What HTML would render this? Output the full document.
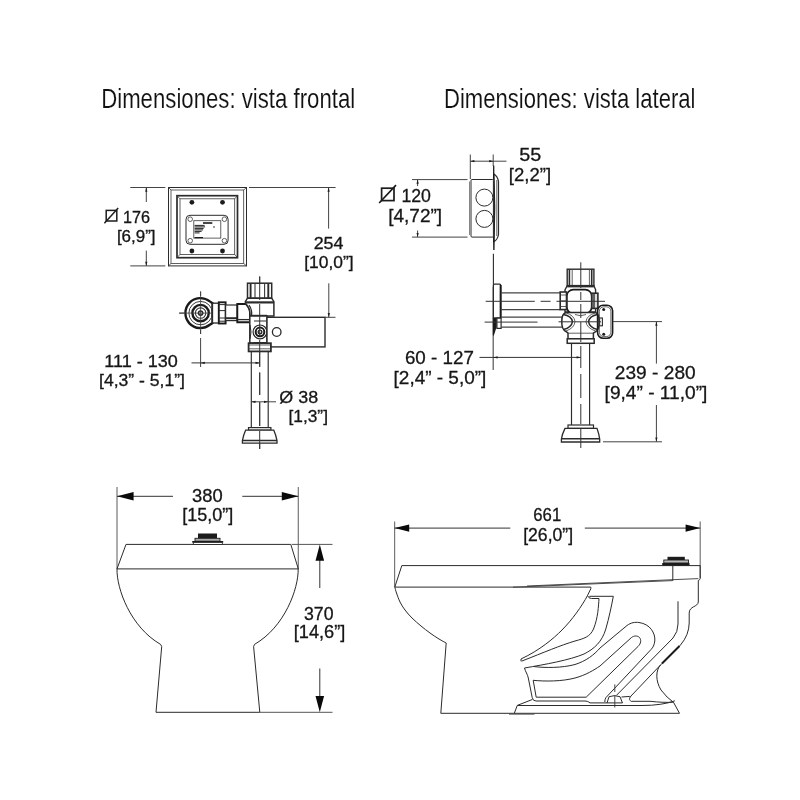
<!DOCTYPE html>
<html><head><meta charset="utf-8">
<style>
html,body{margin:0;padding:0;background:#fff;}
body{width:800px;height:800px;overflow:hidden;font-family:"Liberation Sans",sans-serif;}
svg{display:block;will-change:transform;}
.l{fill:none;stroke:#2b2b2b;stroke-width:1;}
.t{fill:none;stroke:#3a3a3a;stroke-width:0.8;}
.d{fill:none;stroke:#444;stroke-width:1;}
.k{fill:#1c1c1c;stroke:none;}
.w{fill:#fff;stroke:#2b2b2b;stroke-width:1;}
text{font-family:"Liberation Sans",sans-serif;fill:#1a1a1a;}
.q{fill:#161616;stroke:#161616;stroke-width:0.3;}
.h{font-size:28px;fill:#111;stroke:#fff;stroke-width:0.12;}
</style></head>
<body>
<svg width="800" height="800" viewBox="0 0 800 800">
<rect width="800" height="800" fill="#fff"/>
<!-- TITLES -->
<g id="titles">
<text class="h" x="101.2" y="108.4" textLength="254" lengthAdjust="spacingAndGlyphs">Dimensiones: vista frontal</text>
<text class="h" x="444" y="108.4" textLength="251.5" lengthAdjust="spacingAndGlyphs">Dimensiones: vista lateral</text>
</g>
<!-- FRONT-PLATE -->
<g id="fplate">
<rect class="l" x="168.5" y="187.5" width="78" height="78.4"/>
<rect class="t" x="171" y="190" width="72.7" height="73.5"/>
<path class="t" d="M168.5 187.5L171 190M246.5 187.5L243.7 190M168.5 265.9L171 263.5M246.5 265.9L243.7 263.5"/>
<rect class="l" x="177" y="195.7" width="60.5" height="62" style="stroke-width:1.7"/>
<rect class="t" x="180" y="198.8" width="54.7" height="55.6"/>
<path class="t" d="M177 195.7L180 198.8M237.5 195.7L234.7 198.8M177 257.7L180 254.4M237.5 257.7L234.7 254.4"/>
<circle class="k" cx="191.9" cy="202.3" r="2.4"/><circle class="k" cx="222.5" cy="202.3" r="2.4"/>
<circle class="k" cx="191.9" cy="251" r="2.4"/><circle class="k" cx="222.5" cy="251" r="2.4"/>
<rect class="l" x="186" y="215.3" width="42.1" height="29" rx="4"/>
<circle class="t" cx="190.2" cy="219.2" r="2.3"/><circle class="t" cx="224.4" cy="219.2" r="2.3"/>
<circle class="t" cx="190.2" cy="240.7" r="2.3"/><circle class="t" cx="224.4" cy="240.7" r="2.3"/>
<rect class="t" x="193.8" y="220.7" width="27" height="17.4"/>
<rect class="k" x="203" y="222.2" width="9.3" height="1.6"/>
<path d="M194.6 225.4h10M194.6 226.9h10.5M194.6 228.4h9M194.6 229.9h8.5M194.6 231.4h7M194.6 232.9h5" stroke="#222" stroke-width="1" fill="none"/>
<rect class="k" x="194.6" y="237" width="8.4" height="1.2"/>
<circle class="k" cx="214" cy="227" r="0.8"/>
<!-- dims -->
<path class="d" d="M130.3 187.5H165.3M130.3 265.9H165.3M146.3 187.5V202M146.3 250.6V265.9"/>
<path class="k" d="M146.3 187.5l-1.1 4.2h2.2zM146.3 265.9l-1.1 -4.2h2.2z"/>
<path class="d" d="M249 187.5H335.6M328.6 187.5V228.6"/>
<path class="k" d="M328.6 187.5l-1.1 4.2h2.2z"/>
<rect class="t" x="106.2" y="210.4" width="10.6" height="10.6" style="stroke-width:1.5;stroke:#1c1c1c"/><path class="t" d="M104.4 223.2L118.2 208" style="stroke-width:1.5;stroke:#1c1c1c"/>
</g>
<!-- FRONT-VALVE -->
<g id="fvalve">
<!-- center lines -->
<path class="d" d="M259.7 276.5V300M259.7 304V336M259.7 340V366.9M259.7 372.5V395M259.7 402V426M259.7 431V449" style="stroke:#333"/>
<path class="d" d="M179 313.1H184M200.6 291.5V296M200.6 330V334M200.6 338V367"/>
<!-- stop valve -->
<path class="w" d="M212.5 303.2L209.8 301.4A15 15 0 1 0 209.8 324.8L212.5 323Z" style="stroke-width:2.4;stroke:#1a1a1a"/>
<circle class="t" cx="200.6" cy="313.1" r="11.7" style="stroke-width:1"/>
<circle class="l" cx="200.6" cy="313.1" r="8.2" style="stroke-width:2.4;stroke:#1a1a1a"/>
<circle class="t" cx="200.6" cy="313.1" r="5.2" style="stroke-width:1.1"/>
<circle class="l" cx="200.6" cy="313.1" r="2.1" style="stroke-width:1.6"/>
<path class="t" d="M200.6 291.5V334M179.5 313.1H213"/>
<rect class="w" x="212.5" y="303.2" width="6.3" height="19.8" style="stroke-width:1.3"/>
<rect class="w" x="218.8" y="302.3" width="6.8" height="21.2" style="stroke-width:1.9;stroke:#1a1a1a"/>
<path class="l" d="M218.8 304.6h6.8M218.8 310.6h6.8M218.8 318h6.8M218.8 321.2h6.8"/>
<rect class="w" x="225.6" y="305" width="11.7" height="15.6" style="stroke-width:1.2"/>
<path class="l" d="M225.6 318.2h11.7" style="stroke-width:2"/>
<path class="w" d="M237.3 304H246Q250 308 250 313V322.3H237.3Z" style="stroke-width:1.9;stroke:#1a1a1a"/>
<path class="l" d="M237.3 319.6H250" style="stroke-width:1.3"/>
<!-- main body -->
<rect class="w" x="247.5" y="283.2" width="24.2" height="15" style="stroke-width:1.5"/>
<path class="l" d="M250.6 283.2v15M268.3 283.2v15" style="stroke-width:1.9"/>
<path class="t" d="M255 284v14M264.6 284v14" style="stroke-width:1.1"/>
<path class="w" d="M247.5 298.2H271.7L273.9 301.6V316H250V313Q250 308 245.6 303.4L245.3 301.6Z" style="stroke-width:1.5"/>
<path class="l" d="M245.3 302.4H273.9" style="stroke-width:2.2"/>
<path class="l" d="M249 305Q252.5 310 251.5 316" style="stroke-width:1.3"/>
<path class="l" d="M250 315.8H267" style="stroke-width:2"/>
<!-- lower body -->
<rect class="w" x="249.8" y="316" width="17.2" height="27" style="stroke-width:1.5"/>
<circle class="l" cx="260" cy="331.9" r="6.9" style="stroke-width:1.2"/>
<circle class="l" cx="260" cy="331.9" r="4.3" style="stroke-width:2;stroke:#1a1a1a"/>
<circle class="l" cx="260" cy="331.9" r="1.8" style="stroke-width:1.4"/>
<path class="l" d="M250 325Q252 332 250 339M254 321H266M254 342.5H266"/>
<!-- handle box -->
<rect class="w" x="267" y="317.3" width="58" height="29.6" style="stroke-width:1.4"/>
<circle class="l" cx="276.7" cy="332" r="4.3" style="stroke-width:1.3"/>
<!-- collar -->
<rect class="w" x="248.6" y="343.2" width="22.3" height="8.2" style="stroke-width:1.8"/>
<path class="t" d="M248.6 345h22.3M248.6 348.8h22.3"/>
<!-- pipe -->
<path class="l" d="M251.3 351.4V427.6M268.2 351.4V427.6" style="stroke-width:1.15"/>
<rect class="w" x="248.5" y="427.6" width="22.4" height="2.6" style="stroke-width:1.2"/>
<path class="w" d="M245.6 430.2H273.8Q276 435 277 440.6V443.2H242.4V440.6Q243.4 435 245.6 430.2Z" style="stroke-width:1.3"/>
<path class="l" d="M242.4 440.5H277" style="stroke-width:1.5"/>
<!-- redraw center line over fills -->
<path class="d" d="M259.7 276.5V300M259.7 304V336M259.7 340V366.9M259.7 372.5V395M259.7 402V426M259.7 431V449" style="stroke:#333"/>
<!-- dims -->
<path class="d" d="M191.5 362.9H259.7" style="stroke:#333"/>
<path class="k" d="M200.6 362.9l4.2 -1.1v2.2zM259.7 362.9l-4.2 -1.1v2.2z"/>
<path class="d" d="M251.5 401.8H276"/>
<path class="k" d="M251.3 401.8l4.2 -1.1v2.2zM268.2 401.8l-4.2 -1.1v2.2z"/>
<path class="d" d="M328.8 283.3V317.3M325 317.3H335.5"/>
<path class="k" d="M328.8 317.3l-1.1 -4.2h2.2z"/>
</g>
<!-- SIDE-PLATE -->
<g id="splate">
<!-- wall line -->
<path class="l" d="M493.4 253.8V287" style="stroke-width:1.1"/>
<path class="w" d="M493.7 174Q497.6 176 498.5 181.5V234.5Q497.6 240 493.7 241.6Z" style="stroke-width:1.2"/>
<path class="t" d="M496.8 180V236"/>
<path class="k" d="M493.7 165.5Q495.9 207 493.9 250Q492 207 493.7 165.5Z" style="stroke:#1a1a1a;stroke-width:0.9"/>
<rect class="w" x="471" y="179.5" width="22.4" height="57.6" rx="1"/>
<path class="t" d="M469.5 181.5V235" style="stroke:#666"/>
<circle class="l" cx="484.4" cy="197.6" r="8.5"/>
<circle class="l" cx="484.4" cy="218.9" r="8.5"/>
<!-- dims -->
<path class="d" d="M470.3 154.5V179M493.2 154.5V166M470.3 161.2H506.5"/>
<path class="k" d="M470.2 161.2l4.2 -1.1v2.2zM493.4 161.2l-4.2 -1.1v2.2z"/>
<path class="d" d="M412 179.6H467.5M412 237.1H467.5M417.6 179.6V186M417.6 230.5V237.1"/>
<path class="k" d="M417.6 179.6l-1.1 4.2h2.2zM417.6 237.1l-1.1 -4.2h2.2z"/>
<rect class="t" x="381.6" y="188.2" width="12.4" height="12.4" style="stroke-width:1.7;stroke:#1c1c1c"/><path class="t" d="M379.2 203L396 185.2" style="stroke-width:1.7;stroke:#1c1c1c"/>
</g>
<!-- SIDE-VALVE -->
<g id="svalve">
<!-- wall & flange -->
<path class="l" d="M493.2 287V370" style="stroke-width:1.2;stroke:#555"/>
<path class="w" d="M493.4 285.4Q493.4 284.2 494.6 284.2H499.6Q500.8 284.2 500.8 285.4V317.9H493.4Z" style="stroke-width:1.2"/>
<path class="l" d="M500.6 285V317.9" style="stroke-width:1.9;stroke:#1a1a1a"/>
<path class="w" d="M496.9 318.2H501.1V328.4H496.9Z" style="stroke-width:1.2"/>
<path class="k" d="M492.8 318H496.6V327L493.7 336L492.8 335Z"/>
<!-- upper pipe -->
<path class="l" d="M500.8 292.8H560.2M500.8 309.7H560.2" style="stroke-width:1.2;stroke:#444"/>
<!-- lower pipe -->
<path class="l" d="M501.1 317.1H562M501.1 327.2H562" style="stroke-width:1.2;stroke:#444"/>
<!-- body -->
<rect class="w" x="567.2" y="269.2" width="26.7" height="16.4" style="stroke-width:1.4"/>
<path class="l" d="M569.4 269.2v16.4M591.7 269.2v16.4" style="stroke-width:1.6"/>
<path class="t" d="M572.2 270v15M589.4 270v15"/>
<path class="w" d="M567.2 285.6H593.9L595.6 289.8V312H565V289.8Z" style="stroke-width:1.4"/>
<path class="l" d="M567.2 286.6H593.9" style="stroke-width:1.6"/>
<rect class="w" x="566.8" y="289.6" width="24.9" height="23.8" rx="6.5" style="stroke-width:1.7;stroke:#1a1a1a"/>
<rect class="w" x="560.2" y="292" width="6.3" height="17.6" style="stroke-width:1.6"/>
<path class="t" d="M560.2 295h6.3M560.2 300.8h6.3M560.2 306.5h6.3"/>
<rect class="w" x="591.9" y="293.2" width="6" height="15.2" style="stroke-width:1.6;fill:#ddd"/>
<path class="l" d="M594 293.2v15.2" style="stroke-width:1.4"/>
<!-- lower body -->
<path class="w" d="M566 312.5Q561.5 314 561.8 321.6Q561.5 329.5 566 331.5L568 333.2V338.8H593.4V333.2L596 331.5Q599.5 329 599 321.6Q599.5 314 595.5 312.5Z" style="stroke-width:1.5"/>
<path class="l" d="M563.5 314.5Q571.5 316 572.5 321.6Q571.5 327.5 563.5 329.5" style="stroke-width:1.5"/>
<path class="t" d="M566 312.8Q574.5 315.5 575 321.6Q574.5 328 566 331"/>
<path class="l" d="M597.5 314.5Q589.5 316 588.5 321.6Q589.5 327.5 597.5 329.5" style="stroke-width:1.5"/>
<path class="t" d="M595.5 312.8Q586.5 315.5 586 321.6Q586.5 328 595.5 331"/>
<path class="t" d="M575 314.5Q580.8 317 586 314.5M568 333.2H593.4"/>
<rect class="w" x="599.6" y="318" width="2.8" height="7.8" style="stroke-width:1.1"/>
<!-- cover -->
<rect class="w" x="597.6" y="305.2" width="15" height="33" rx="5.5" style="stroke-width:1.6;stroke:#1a1a1a;fill:none"/>
<rect class="t" x="599.3" y="306.8" width="11.6" height="29.8" rx="4.5"/>
<circle class="k" cx="603.7" cy="309.4" r="1.5"/><circle class="k" cx="603.7" cy="334.2" r="1.5"/>
<!-- collar & pipe -->
<rect class="w" x="567.2" y="338.8" width="27" height="4.5" style="stroke-width:1.5"/>
<path class="l" d="M571.5 343.3V425M589.6 343.3V425" style="stroke-width:1.15"/>
<rect class="w" x="568" y="425" width="25.5" height="3.4" style="stroke-width:1.2"/>
<path class="w" d="M565 428.4H597Q599 434 599.7 439V442H561.4V439Q562.2 434 565 428.4Z" style="stroke-width:1.3"/>
<path class="l" d="M561.4 438.7H599.7" style="stroke-width:1.5"/>
<!-- center lines -->
<path class="d" d="M580.8 262.3V288M580.8 292V300M580.8 304V318M580.8 322V342M580.8 346V368M580.8 374V398M580.8 404V424M580.8 429V448" style="stroke:#333"/>
<path class="d" d="M485.7 301.3H534.8M540.6 301.3H550.6M556.5 301.3H605" style="stroke:#333"/>
<path class="d" d="M484.6 322.1H537.5M558.5 321.8H601" style="stroke:#333"/>
<!-- dims -->
<path class="d" d="M479.5 357.4H580.8" style="stroke:#333"/>
<path class="k" d="M493.4 357.4l4.2 -1.1v2.2zM580.8 357.4l-4.2 -1.1v2.2z"/>
<path class="d" d="M613 321.6H662M603 441.8H662M656.4 321.6V363.6M656.4 405V441.8"/>
<path class="k" d="M656.4 321.6l-1.1 4.2h2.2zM656.4 441.8l-1.1 -4.2h2.2z"/>
</g>
<!-- FRONT-TOILET -->
<g id="ftoilet">
<path class="d" d="M117 487V569M298.3 487V569" style="stroke:#777;stroke-width:1.2"/>
<path class="d" d="M117 496.3H173M242.3 496.3H298.3" style="stroke:#333"/>
<path class="k" d="M117 496.3l16.6 -4.25v8.5zM298.4 496.3l-16.6 -4.25v8.5z" style="fill:#0a0a0a"/>
<!-- body -->
<path class="l" d="M126 544.4H290.8L298.3 568.9H117Z"/>
<path class="l" d="M117 568.8C116.6 589 130.5 627 160.6 644.4L161.7 646.6L156 712.3H259.8L253.6 646.6L254.5 644.4C284.6 627 298.5 589 298.2 568.8"/>
<!-- spud -->
<rect class="k" x="198" y="533.5" width="19" height="5"/>
<rect x="195" y="538.3" width="25" height="2.9" fill="#aaa" stroke="#1c1c1c" stroke-width="0.9"/>
<rect class="k" x="192.2" y="541" width="31" height="1.6"/>
<rect x="193.3" y="542.4" width="29" height="2" fill="#fff" stroke="#1c1c1c" stroke-width="0.8"/>
<!-- height dim -->
<path class="d" d="M291.8 544.4H332.5M259.8 712.3H332.5" style="stroke:#555"/>
<path class="d" d="M319.8 556V588M319.8 668.5V700" style="stroke:#333"/>
<path class="k" d="M319.8 544.4l-4.3 16.3h8.6zM319.8 712.3l-4.3 -16.3h8.6z" style="fill:#0a0a0a"/>
</g>
<!-- SIDE-TOILET -->
<g id="stoilet">
<path class="d" d="M394.6 521.5V587M700.2 521.5V578" style="stroke:#777;stroke-width:1.2"/>
<path class="d" d="M394.6 528.1H510.3M584.8 528.1H700.2" style="stroke:#333"/>
<path class="k" d="M394.6 528.1l14.6 -3.7v7.4zM700.2 528.1l-14.6 -3.7v7.4z" style="fill:#0a0a0a"/>
<!-- outer body -->
<path class="l" d="M401.8 565.6H700.2V578.4Q700 580 698.3 580.4V602C698 607 689.2 606 689.2 613V623Q689 635 680.5 645L660.5 665C655.5 670.5 655.5 681 661 690Q667 698 673.5 702.3L679.5 713.3H440.8L446.2 643C445.0 642.3 441.7 640.7 439.0 639.0C436.3 637.3 433.0 635.2 430.0 633.0C427.0 630.8 424.0 628.5 421.0 626.0C418.0 623.5 414.7 620.7 412.0 618.0C409.3 615.3 407.0 612.7 405.0 610.0C403.0 607.3 401.4 604.8 400.0 602.0C398.6 599.2 397.4 595.5 396.5 593.0C395.6 590.5 395.1 588.1 394.8 587.1Z"/>
<path class="l" d="M394.8 587.1H590.8"/>
<path class="t" d="M527 586L698.3 578.6M513 587.2L672.8 580.6" style="stroke-width:0.9"/>
<path class="l" d="M672.8 565.6V580.6"/>
<path class="l" d="M679.5 646L662 663.5" style="stroke-width:1.9;stroke:#1a1a1a"/>
<!-- spud -->
<rect class="k" x="667.5" y="556.8" width="17.3" height="3.4"/>
<rect x="663.8" y="560" width="24.7" height="3" fill="#bbb" stroke="#1c1c1c" stroke-width="0.9"/>
<rect class="k" x="662.2" y="563" width="27.3" height="2.6"/>
<!-- TRAP -->
<g id="trap">
<!-- rim notch -->
<path class="l" d="M590.8 587.1V588.8L587.5 595.5"/>
<!-- A: bowl inner -->
<path class="l" d="M587.5 595.5C582 606 572 620 562 630C553 639 540 650 521 659V661.2"/>
<!-- B: bowl wall -->
<path class="l" d="M587.5 595.5Q588.5 598.5 591.5 598.5H599C598.5 606 598 618 593.5 629C590 637 584 638.5 575 641C560 645.5 545 652 521.5 661.2"/>
<!-- C -->
<path class="l" d="M589.3 596.3H613.3C611.5 606 609 618 605.8 629C602 642 594 649 584 654C570 660 545 664.5 524.5 668"/>
<!-- left wall + floor line -->
<path class="l" d="M524.5 668C525.5 672 527.5 674 528.3 678L532.2 697.5Q532.8 701 536 701H585Q588 701 590 702.9H622.5"/>
<!-- D + outer U -->
<path class="l" d="M533.5 666.5C545 668 562 668 575 664.5C586 661 594 655 600 648L627 625.5C631 622.5 635 622 639 622.5C650 624 655.5 633 654.8 641C654.3 645 653 647.5 651 649.5L606 697.5Q604.8 699 604.8 702"/>
<!-- E inner closed shape -->
<path class="l" d="M533.2 680.3C545 681.5 562 681.5 575 678C586 675 594 670 600 666L631.5 637.5C634 635.5 637.5 635.5 639.5 637.5C641.5 640 641 643.5 638 646.5L586.2 697.2H536.2Z"/>
<!-- rear wall -->
<path class="l" d="M678 601.3V624Q678 632 673 638L616.4 695.4"/>
<path class="l" d="M660.5 665L631 696C628.5 699 629.5 700.5 631.6 701.5"/>
<!-- spud at floor -->
<path class="l" d="M607 703L609 696.7Q614.5 694.6 620 696.7L622.5 703M621.5 697L629.8 696.4"/>
<path class="d" d="M614.8 684.4V692M614.8 695V707.5"/>
<!-- base -->
<path class="l" d="M514.3 713.3L517.3 705.4L532.3 699.5"/>
<path class="t" d="M509 714.2H534.5"/>
<path class="l" d="M517.3 705.5H642Q662 705.5 674.9 700.8"/>
<path class="l" d="M631.6 701.3H650Q664 702.8 673.5 702.2"/>
</g>
</g>
<g id="labels">
<text class="q" x="123" y="222.6" font-size="16" textLength="27.04" lengthAdjust="spacingAndGlyphs">176</text>
<text class="q" x="116.9" y="241.7" font-size="16" textLength="38.59" lengthAdjust="spacingAndGlyphs">[6,9”]</text>
<text class="q" x="313.66" y="249" font-size="16.5" textLength="29.83" lengthAdjust="spacingAndGlyphs">254</text>
<text class="q" x="304.2" y="267.6" font-size="16.5" textLength="49.39" lengthAdjust="spacingAndGlyphs">[10,0”]</text>
<text class="q" x="104.35" y="367.2" font-size="16.5" textLength="73.54" lengthAdjust="spacingAndGlyphs">111 - 130</text>
<text class="q" x="99.01" y="385.8" font-size="16.5" textLength="85.97" lengthAdjust="spacingAndGlyphs">[4,3” - 5,1”]</text>
<text class="q" x="279.32" y="402.9" font-size="17" textLength="38.88" lengthAdjust="spacingAndGlyphs">Ø 38</text>
<text class="q" x="288.42" y="422" font-size="17" textLength="39.56" lengthAdjust="spacingAndGlyphs">[1,3”]</text>
<text class="q" x="401.4" y="202.4" font-size="19" textLength="29.5" lengthAdjust="spacingAndGlyphs">120</text>
<text class="q" x="388.2" y="222.4" font-size="19" textLength="53.92" lengthAdjust="spacingAndGlyphs">[4,72”]</text>
<text class="q" x="519.2" y="160.6" font-size="19" textLength="21.98" lengthAdjust="spacingAndGlyphs">55</text>
<text class="q" x="508.83" y="180.9" font-size="19" textLength="42.32" lengthAdjust="spacingAndGlyphs">[2,2”]</text>
<text class="q" x="404.93" y="364" font-size="19" textLength="68.94" lengthAdjust="spacingAndGlyphs">60 - 127</text>
<text class="q" x="393.58" y="383.8" font-size="19" textLength="92.73" lengthAdjust="spacingAndGlyphs">[2,4” - 5,0”]</text>
<text class="q" x="614.86" y="379" font-size="19" textLength="80.79" lengthAdjust="spacingAndGlyphs">239 - 280</text>
<text class="q" x="604.58" y="398.5" font-size="19" textLength="102.75" lengthAdjust="spacingAndGlyphs">[9,4” - 11,0”]</text>
<text class="q" x="192.08" y="501.9" font-size="17.5" textLength="30.62" lengthAdjust="spacingAndGlyphs">380</text>
<text class="q" x="182.23" y="520.9" font-size="17.5" textLength="51.13" lengthAdjust="spacingAndGlyphs">[15,0”]</text>
<text class="q" x="304.02" y="619.5" font-size="17.5" textLength="29.48" lengthAdjust="spacingAndGlyphs">370</text>
<text class="q" x="293.73" y="637.9" font-size="17.5" textLength="51.57" lengthAdjust="spacingAndGlyphs">[14,6”]</text>
<text class="q" x="533.31" y="521.4" font-size="17.5" textLength="27.89" lengthAdjust="spacingAndGlyphs">661</text>
<text class="q" x="523.15" y="540.5" font-size="17.5" textLength="49.95" lengthAdjust="spacingAndGlyphs">[26,0”]</text>
</g>
</svg>
</body></html>
